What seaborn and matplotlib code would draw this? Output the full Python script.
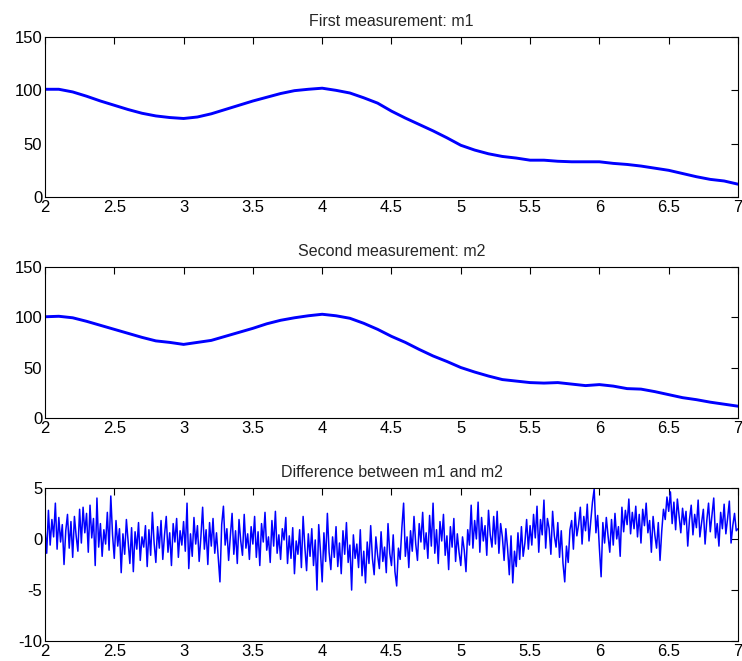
import numpy as np
import pandas as pd
import matplotlib
matplotlib.use("Agg")
import matplotlib.pyplot as plt
import seaborn as sns

# ---- data ----
x_coarse = [2.0, 2.1, 2.2, 2.3, 2.4, 2.5, 2.6, 2.7, 2.8, 2.9,
            3.0, 3.1, 3.2, 3.3, 3.4, 3.5, 3.6, 3.7, 3.8, 3.9,
            4.0, 4.1, 4.2, 4.3, 4.4, 4.5, 4.6, 4.7, 4.8, 4.9,
            5.0, 5.1, 5.2, 5.3, 5.4, 5.5, 5.6, 5.7, 5.8, 5.9,
            6.0, 6.1, 6.2, 6.3, 6.4, 6.5, 6.6, 6.7, 6.8, 6.9, 7.0]

m1 = [101, 101, 98.5, 94.5, 90, 86, 82, 78.5, 76, 74.5,
      73.6, 75, 78, 82, 86, 90, 93.5, 97, 99.7, 101,
      102, 100, 97.5, 93, 88, 80.5, 74, 68, 62, 55.5,
      48.5, 44, 40.5, 38, 36.5, 34.5, 34.5, 33.5, 33, 33,
      33, 31.5, 30.5, 29, 27, 25, 22, 19, 16.5, 15, 12]

m2 = [100.5, 101, 99.5, 96, 92, 88, 84, 80, 76.5, 75,
      73, 75, 77, 81, 85, 89, 93.5, 97, 99.5, 101.5,
      103, 101.5, 99, 94, 88, 81, 75, 68, 61.5, 56,
      50, 45.5, 41.5, 38, 36.5, 35, 34.5, 35, 33.5, 32,
      33, 31.5, 29, 28.5, 26, 23, 20, 18, 15.5, 13.5, 11.5]

diff = [
    1.2, -1.4, 2.8, -0.6, 1.9, 0.2, 3.5, -1.0, 2.1, -0.3, 1.4, -2.5, 0.8, 2.4, -0.9, 1.7, -1.8, 2.2, 0.3, -1.2,
    2.9, -0.4, 3.1, 0.6, 2.5, -1.3, 3.3, 0.1, 2.0, -2.6, 4.0, -0.8, 1.5, -1.7, 0.9, -0.5, 2.6, -1.1, 4.2, 0.4,
    -1.9, 1.8, -0.7, 1.0, -3.3, 0.5, -1.5, 1.9, -0.2, -2.4, 1.1, -3.2, 0.7, -1.0, 1.6, -2.1, 0.2, -0.8, 1.3, -2.7,
    0.9, -1.6, 2.6, -0.4, -2.3, 1.2, -0.9, 1.8, -2.0, 0.4, 2.2, -1.3, 0.6, -2.6, 1.5, -0.3, 2.0, -1.8, 0.8, -0.6,
    1.7, -1.2, 3.5, -2.9, 0.5, -1.7, 2.1, -0.5, 1.3, -2.2, 0.2, 3.1, -1.0, 0.9, -2.5, 1.6, -0.7, 2.0, -1.4, 0.6,
    -1.8, -4.2, 1.4, 3.2, -0.6, 1.0, -2.1, 0.3, 2.5, -1.5, 0.8, -2.4, 1.9, -0.2, -1.6, 2.4, -0.9, 0.5, -2.0, 1.2,
    -0.5, 2.2, -1.8, 0.7, -2.6, 1.5, -0.3, 2.6, -1.1, 0.2, -2.3, 1.8, -0.7, 2.7, -1.4, 0.4, -2.0, 1.0, -0.1, 2.1,
    -2.4, 0.3, -1.9, 1.1, -3.4, -0.2, -1.5, 0.9, -2.8, 2.2, -0.8, -3.1, 0.5, -1.7, 1.0, -2.6, -0.1, -5.0, 1.4, -1.2,
    -4.2, 0.6, -2.2, 2.5, -1.3, -3.0, 0.2, -1.8, 1.2, -2.7, -0.4, -3.4, 0.8, -1.5, 1.6, -2.3, -0.6, -5.0, 0.4, -1.9,
    -0.5, -2.8, 0.9, -3.6, -1.2, -4.3, -0.3, -2.4, 1.3, -1.9, -3.5, 0.2, -1.6, -2.9, 0.7, -2.2, -0.8, -3.3, 1.5, -1.4,
    -2.6, 0.4, -3.2, -4.6, -0.9, -2.0, 1.1, 3.5, -1.7, 0.2, -2.8, 0.8, -1.2, 2.2, -0.5, -2.1, 1.5, -0.3, 2.6, -1.0,
    0.6, -1.9, 2.3, -0.7, 3.5, -1.4, 0.9, -2.4, 1.7, -0.2, 2.4, -1.6, 0.3, -3.0, 1.2, -0.8, 2.0, -2.2, 0.5, -1.3,
    -2.6, 0.2, -1.1, -3.2, 0.9, -0.6, 3.3, -0.9, 1.8, 0.0, 3.6, -1.3, 2.1, -0.2, 1.3, -1.6, 2.8, 0.4, -0.8, 2.2,
    -0.5, 2.7, -1.4, 1.5, 0.2, -2.1, 1.0, -0.9, -3.5, 0.3, -4.3, -1.2, -2.7, 0.6, -2.0, 1.2, -1.7, -0.4, 1.9, -1.0,
    1.3, -0.6, 2.4, 0.1, 3.2, -1.3, 1.9, 0.4, 3.8, -0.9, 2.0, 1.0, -1.5, 2.7, 0.3, -0.8, 1.6, -1.8, 0.8, -2.4,
    -4.2, -0.7, -2.3, 0.9, 1.8, -1.0, 2.6, 0.3, 1.4, 3.1, -0.5, 2.2, 0.8, 3.4, -0.2, 1.7, 3.6, 4.9, 0.6, 2.3,
    -0.9, -3.7, 1.6, -0.4, 2.1, 0.3, -1.3, 1.9, -0.6, 2.5, 0.0, 1.2, -1.7, 3.1, 0.7, 2.8, 1.4, 3.9, 0.5, 2.6,
    1.0, 3.2, 0.2, 2.4, -0.4, 2.9, 1.3, 3.5, 0.6, 1.8, -1.3, 2.2, 0.4, -0.9, 1.6, -2.1, 0.8, 2.9, 1.9, 4.1,
    2.7, 4.6, 1.5, 3.6, 0.9, 3.9, 2.2, 0.6, 3.0, 1.4, 2.7, -0.7, 1.9, 3.3, 0.4, 2.4, 1.1, 3.8, 0.2, 1.6,
    2.9, -0.5, 1.8, 3.5, 0.7, 2.3, 4.0, 0.1, 1.5, -0.7, 2.6, 1.0, 3.4, 0.5, 2.0, 3.7, -0.4, 1.3, 2.5, 0.8,
    1.0,
]
x_fine = np.linspace(2, 7, len(diff))

titles = ["First measurement: m1", "Second measurement: m2", "Difference between m1 and m2"]
xticks = [2, 2.5, 3, 3.5, 4, 4.5, 5, 5.5, 6, 6.5, 7]
xticklabels = ["2", "2.5", "3", "3.5", "4", "4.5", "5", "5.5", "6", "6.5", "7"]
yticks_m = [0, 50, 100, 150]
yticks_d = [-10, -5, 0, 5]

# ---- styling ----
sns.set_theme(style="white")
plt.rcParams['font.family'] = ['Liberation Sans', 'DejaVu Sans']
plt.rcParams['axes.linewidth'] = 0.8
plt.rcParams['axes.edgecolor'] = 'black'

fig = plt.figure(figsize=(7.42, 6.61), dpi=100)
ax1 = fig.add_axes([0.0606, 0.702, 0.934, 0.242])
ax2 = fig.add_axes([0.0606, 0.368, 0.934, 0.228])
ax3 = fig.add_axes([0.0606, 0.030, 0.934, 0.232])

blue = "#0000FF"
df1 = pd.DataFrame({"x": x_coarse, "y": m1})
df2 = pd.DataFrame({"x": x_coarse, "y": m2})
df3 = pd.DataFrame({"x": x_fine, "y": diff})

sns.lineplot(data=df1, x="x", y="y", ax=ax1, color=blue, linewidth=2.1)
sns.lineplot(data=df2, x="x", y="y", ax=ax2, color=blue, linewidth=2.1)
sns.lineplot(data=df3, x="x", y="y", ax=ax3, color=blue, linewidth=1.1)

for ax, title, yt in zip([ax1, ax2, ax3], titles, [yticks_m, yticks_m, yticks_d]):
    ax.set_xlim(2, 7)
    ax.set_ylim(yt[0], yt[-1])
    ax.set_xticks(xticks)
    ax.set_xticklabels(xticklabels)
    ax.set_yticks(yt)
    ax.set_yticklabels([str(v) for v in yt])
    ax.set_xlabel("")
    ax.set_ylabel("")
    ax.set_title(title, fontsize=11.5, pad=8)
    ax.tick_params(direction="in", length=5, width=0.8, top=True, right=True,
                   labelsize=12, pad=2, colors="black")
    for s in ax.spines.values():
        s.set_visible(True)
        s.set_color("black")

fig.savefig("out.png", dpi=100)
